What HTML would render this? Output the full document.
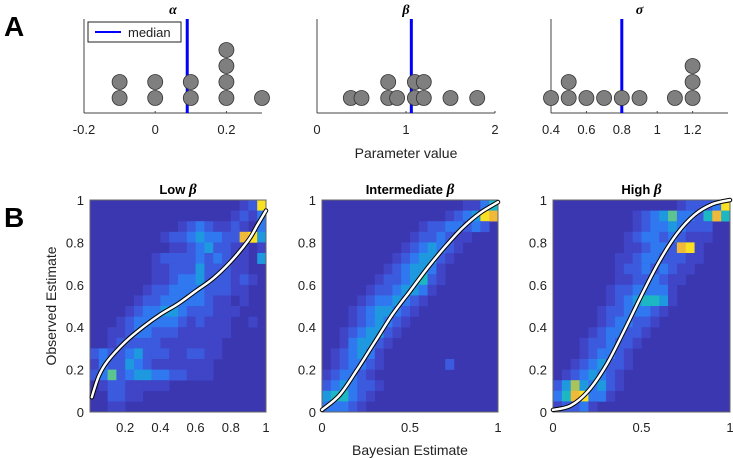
<!DOCTYPE html>
<html><head><meta charset="utf-8"><style>
body{margin:0;background:#fff;}
svg{display:block;font-family:"Liberation Sans",sans-serif;}
</style></head><body>
<svg id="fig" width="733" height="458"></svg>
<script>
// ---------- Panel A data ----------
const alphaVals = [-0.1,-0.1,0,0,0.1,0.1,0.2,0.2,0.2,0.2,0.3];
const betaVals = [0.38,0.5,0.8,0.8,0.9,1.1,1.1,1.2,1.2,1.5,1.8];
const sigmaVals = [0.4,0.5,0.5,0.6,0.7,0.8,0.9,1.1,1.2,1.2,1.2];
const medians = [0.09,1.06,0.8];
const alphaTicks = [-0.2,0,0.2];
const betaTicks = [0,1,2];
const sigmaTicks = [0.4,0.6,0.8,1,1.2];
const alphaTickLabels = ["-0.2","0","0.2"];
const betaTickLabels = ["0","1","2"];
const sigmaTickLabels = ["0.4","0.6","0.8","1","1.2"];
// ---------- Panel B data ----------
const lowGrid = [
"00000000000000000129","00000000000000001213","00000000001232112103","00000000122343322894",
"00000000011234221101","00000001222232321104","00000001122242221100","00000001123342221210",
"00000012233332221100","00000122333332110100","00001233443222111000","00012333332121110010",
"00112332221111110000","00122222111111100000","23223422211221100000","13224321111111000000",
"23623443322111000000","01221111100000000000","00221100000000000000","00110000000000000000"];
const midGrid = [
"00000000000000001135","00000000000000123498","00000000000122332320","00000000001223211000",
"00000000012343210000","00000000123442100000","00000001234431000000","00000012234521000000",
"00000122344310000000","00001233432100000000","00012344321000000000","00012343210000000000",
"00123442100000000000","00134421000000000000","01234310000000000000","01233210000000200000",
"12332100000000000000","23432210000000000000","45532100000000000000","33321000000000000000"];
const highGrid = [
"00000000000000122239","00000000012346332585","00000000012334322200","00000000123323211100",
"00000000112332891000","00000001123322211000","00000001223232110000","00000001122321100000",
"00000012233331000000","00000012345541000000","00000122333210000000","00000123322100000000",
"00001233221000000000","00012232210000000000","00012332100000000000","00123422100000000000",
"01234321000000000000","24743421000000000000","35893310000000000000","12231000000000000000"];
const lowCurveX = [0.01,0.05,0.1,0.2,0.3,0.4,0.5,0.6,0.7,0.8,0.9,0.95,1];
const lowCurveY = [0.07,0.17,0.24,0.33,0.4,0.46,0.51,0.57,0.63,0.71,0.81,0.88,0.95];
const midCurveX = [0,0.1,0.2,0.3,0.4,0.5,0.6,0.7,0.8,0.9,1];
const midCurveY = [0.01,0.08,0.2,0.33,0.46,0.57,0.68,0.78,0.87,0.94,0.99];
const highCurveX = [0,0.1,0.2,0.3,0.4,0.5,0.6,0.7,0.8,0.9,1];
const highCurveY = [0.01,0.03,0.1,0.22,0.38,0.55,0.71,0.84,0.93,0.98,1];
const lowXTicks = [0.2,0.4,0.6,0.8,1];
const lowXTickLabels = ["0.2","0.4","0.6","0.8","1"];
const bXTicks = [0,0.5,1];
const bXTickLabels = ["0","0.5","1"];
const bYTicks = [0,0.2,0.4,0.6,0.8,1];
const bYTickLabels = ["0","0.2","0.4","0.6","0.8","1"];

const NS="http://www.w3.org/2000/svg";
const svg=document.getElementById('fig');
function mk(tag,attrs,parent,txt){const e=document.createElementNS(NS,tag);for(const k in attrs)e.setAttribute(k,attrs[k]);if(txt!==undefined)e.textContent=txt;(parent||svg).appendChild(e);return e;}

let t=mk('text',{x:4,y:36,'font-size':28,'font-weight':'bold'},svg,'A');


t=mk('text',{x:4,y:227,'font-size':28,'font-weight':'bold'},svg,'B');



function dotPanel(name,vals,med,ticks,labels,x0,x1,dmin,dmax,title){
  const g=mk('g',{});
  
  
  const sx=v=>x0+(v-dmin)/(dmax-dmin)*(x1-x0);
  const yb=113,yt=19;
  let e=mk('line',{x1:x0,y1:yt,x2:x0,y2:yb,stroke:'#444','stroke-width':1},g);
  
  
  e=mk('line',{x1:x0,y1:yb,x2:x1,y2:yb,stroke:'#444','stroke-width':1},g);
  
  
  ticks.forEach((tv,i)=>{
    mk('line',{x1:sx(tv),y1:yb,x2:sx(tv),y2:yb-2,stroke:'#444'},g);
    const l=mk('text',{x:sx(tv),y:134,'font-size':13,'text-anchor':'middle',fill:'#222'},g,labels[i]);
    
    
  });
  e=mk('line',{x1:sx(med),y1:yt,x2:sx(med),y2:yb,stroke:'#0000ff','stroke-width':3},g);
  
  
  const counts={};
  vals.forEach(v=>{const k=v.toFixed(3);const c=counts[k]||0;counts[k]=c+1;
    const d=mk('circle',{cx:sx(v),cy:98-c*16,r:7.5,fill:'#7f7f7f',stroke:'#333','stroke-width':0.8},g);
    
    
  });
  e=mk('text',{x:(x0+x1)/2,y:14,'font-size':14,'font-weight':'bold','font-style':'italic','text-anchor':'middle','font-family':'Liberation Serif,serif'},g,title);
  
  
}
dotPanel('alpha',alphaVals,medians[0],alphaTicks,alphaTickLabels,84,262,-0.2,0.3,'α');
dotPanel('beta',betaVals,medians[1],betaTicks,betaTickLabels,317,495,0,2,'β');
dotPanel('sigma',sigmaVals,medians[2],sigmaTicks,sigmaTickLabels,551,728,0.4,1.4,'σ');
const lg=mk('g',{});


mk('rect',{x:88,y:22,width:93,height:20,fill:'#fff',stroke:'#222','stroke-width':1},lg);
mk('line',{x1:95,y1:32,x2:121,y2:32,stroke:'#0000ff','stroke-width':2},lg);
let le=mk('text',{x:128,y:37,'font-size':13,fill:'#222'},lg,'median');


t=mk('text',{x:406,y:158,'font-size':14,'text-anchor':'middle',fill:'#222'},svg,'Parameter value');



const colors=['#3a37b0','#3f45c6','#3c5ade','#2f78f0','#1e99e0','#1db7c4','#5cc490','#a8c45a','#f0b93a','#f9e022'];
function smoothPath(P){
  let d='M'+P[0][0].toFixed(1)+','+P[0][1].toFixed(1);
  for(let i=0;i<P.length-1;i++){
    const p0=P[Math.max(0,i-1)],p1=P[i],p2=P[i+1],p3=P[Math.min(P.length-1,i+2)];
    const c1=[p1[0]+(p2[0]-p0[0])/6,p1[1]+(p2[1]-p0[1])/6];
    const c2=[p2[0]-(p3[0]-p1[0])/6,p2[1]-(p3[1]-p1[1])/6];
    d+=' C'+c1.map(v=>v.toFixed(1)).join(',')+' '+c2.map(v=>v.toFixed(1)).join(',')+' '+p2.map(v=>v.toFixed(1)).join(',');
  }
  return d;
}
function heatPanel(name,grid,cx,cy,xt,xtl,x0,x1,title){
  const g=mk('g',{});
  
  
  const y0=412,y1=200;
  const sx=v=>x0+v*(x1-x0), sy=v=>y0-v*(y0-y1);
  const rows=grid.length, cols=grid[0].length;
  const cw=(x1-x0)/cols, ch=(y0-y1)/rows;
  mk('rect',{x:x0,y:y1,width:x1-x0,height:y0-y1,fill:colors[0]},g);
  grid.forEach((row,r)=>{for(let c=0;c<cols;c++){const v=+row[c];if(v>0){
    const cell=mk('rect',{x:sx(c/cols),y:sy(1-r/rows),width:cw+0.3,height:ch+0.3,fill:colors[v]},g);
    
    }}});
  mk('rect',{x:x0,y:y1,width:x1-x0,height:y0-y1,fill:'none',stroke:'#666','stroke-width':1},g);
  const P=cx.map((v,i)=>[sx(v),sy(cy[i])]);
  const d=smoothPath(P);
  let e=mk('path',{d:d,fill:'none',stroke:'#000','stroke-width':4.5,'stroke-linecap':'round'},g);
  
  
  e=mk('path',{d:d,fill:'none',stroke:'#fff','stroke-width':2.5,'stroke-linecap':'round'},g);
  
  
  xt.forEach((v,i)=>{const l=mk('text',{x:sx(v),y:432,'font-size':13,'text-anchor':'middle',fill:'#222'},g,xtl[i]);
    
    });
  bYTicks.forEach((v,i)=>{const l=mk('text',{x:x0-6,y:sy(v)+5,'font-size':13,'text-anchor':'end',fill:'#222'},g,bYTickLabels[i]);
    
    });
  e=mk('text',{x:(x0+x1)/2,y:194,'font-size':13,'font-weight':'bold','text-anchor':'middle'},g);
  
  
  mk('tspan',{},e,title+' ');
  mk('tspan',{'font-family':'Liberation Serif,serif','font-style':'italic','font-size':15},e,'β');
}
heatPanel('low-beta',lowGrid,lowCurveX,lowCurveY,lowXTicks,lowXTickLabels,90,266,'Low');
heatPanel('intermediate-beta',midGrid,midCurveX,midCurveY,bXTicks,bXTickLabels,322,498,'Intermediate');
heatPanel('high-beta',highGrid,highCurveX,highCurveY,bXTicks,bXTickLabels,553,730,'High');
t=mk('text',{x:410,y:455,'font-size':14,'text-anchor':'middle',fill:'#222'},svg,'Bayesian Estimate');


t=mk('text',{x:0,y:0,'font-size':14,'text-anchor':'middle',fill:'#222',transform:'translate(56,306) rotate(-90)'},svg,'Observed Estimate');


</script>
</body></html>
